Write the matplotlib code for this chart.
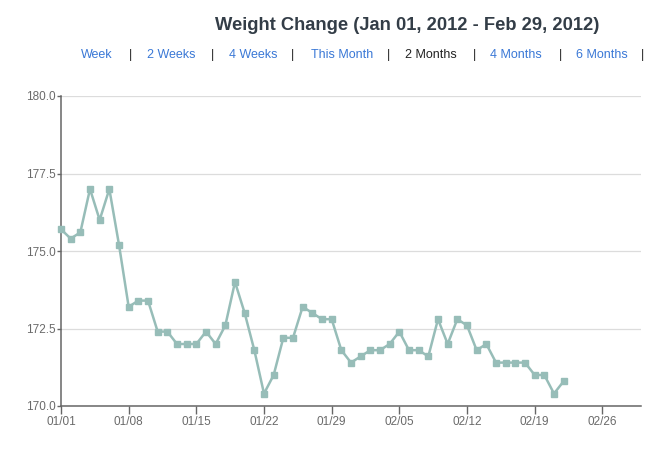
import matplotlib
matplotlib.use("Agg")
import matplotlib.pyplot as plt
import numpy as np
import datetime as dt

start_date = "2012-01-01"
weights = [175.7, 175.4, 175.6, 177.0, 176.0, 177.0, 175.2, 173.2, 173.4, 173.4,
           172.4, 172.4, 172.0, 172.0, 172.0, 172.4, 172.0, 172.6, 174.0, 173.0,
           171.8, 170.4, 171.0, 172.2, 172.2, 173.2, 173.0, 172.8, 172.8, 171.8,
           171.4, 171.6, 171.8, 171.8, 172.0, 172.4, 171.8, 171.8, 171.6, 172.8,
           172.0, 172.8, 172.6, 171.8, 172.0, 171.4, 171.4, 171.4, 171.4, 171.0,
           171.0, 170.4, 170.8]
y_ticks = [170.0, 172.5, 175.0, 177.5, 180.0]
x_tick_labels = ["01/01", "01/08", "01/15", "01/22", "01/29", "02/05", "02/12", "02/19", "02/26"]
title = "Weight Change (Jan 01, 2012 - Feb 29, 2012)"
links = ["Week", "2 Weeks", "4 Weeks", "This Month", "2 Months", "4 Months", "6 Months"]
active_link = "2 Months"

plt.rcParams['font.family'] = ['Liberation Sans', 'DejaVu Sans']

d0 = dt.date.fromisoformat(start_date)
dates = [d0 + dt.timedelta(days=i) for i in range(len(weights))]
tick_dates = [d0 + dt.timedelta(days=7 * i) for i in range(len(x_tick_labels))]

W, H = 645, 467
fig = plt.figure(figsize=(W / 100, H / 100), dpi=100)
ax = fig.add_axes([61 / W, 1 - 406 / H, (641 - 61) / W, (406 - 96) / H])

line_color = "#97bdb8"
ax.plot(dates, weights, color=line_color, lw=1.8, marker="s", ms=4.6,
        mfc=line_color, mec=line_color, clip_on=False, zorder=3)

ax.set_ylim(170, 180)
ax.set_xlim(d0, d0 + dt.timedelta(days=60))
ax.set_yticks(y_ticks)
ax.set_yticklabels([f"{v:.1f}" for v in y_ticks])
ax.set_xticks(tick_dates)
ax.set_xticklabels(x_tick_labels)

ax.grid(axis="y", color="#dcdcdc", lw=0.9)
ax.set_axisbelow(True)
for s in ["top", "right"]:
    ax.spines[s].set_visible(False)
for s in ["left", "bottom"]:
    ax.spines[s].set_color("#666666")
    ax.spines[s].set_linewidth(1.1)
ax.tick_params(axis="y", length=3, width=1, color="#666666", labelsize=8.5,
               labelcolor="#6a6a6a", pad=1)
ax.tick_params(axis="x", length=6, width=1, color="#666666", labelsize=8.5,
               labelcolor="#6a6a6a", pad=1)

fig.text(407 / W, 1 - 25 / H, title, ha="center", va="center",
         fontsize=13.2, fontweight="bold", color="#333d47")

link_centers = [97, 171, 253, 342, 431, 516, 602]
sep_x = [130, 212, 293, 389, 474, 560, 643]
for name, cx in zip(links, link_centers):
    fig.text(cx / W, 1 - 55 / H, name, ha="center", va="center", fontsize=9,
             color="#222222" if name == active_link else "#3a78d6")
for sx in sep_x:
    fig.text(sx / W, 1 - 55 / H, "|", ha="center", va="center", fontsize=9,
             color="#222222")

fig.savefig("out.png", dpi=100)
